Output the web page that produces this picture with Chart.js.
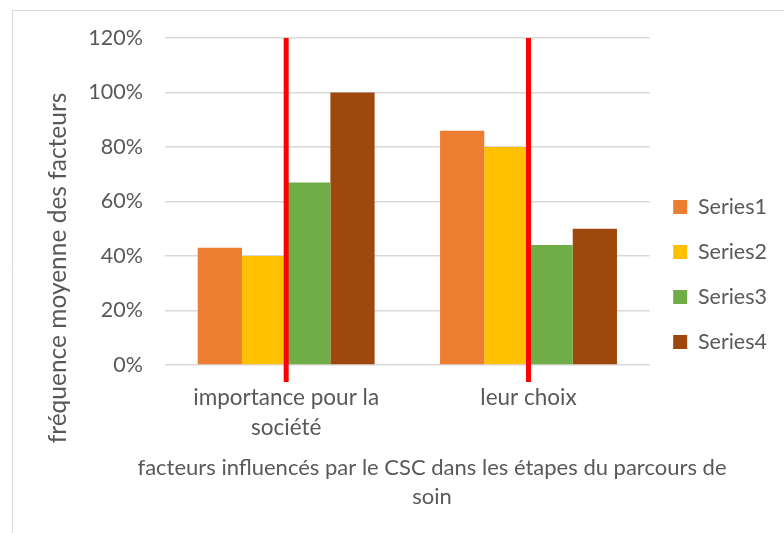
<!DOCTYPE html>
<html lang="fr">
<head>
<meta charset="utf-8" />
<script src="https://cdn.jsdelivr.net/npm/chart.js@4.4.1/dist/chart.umd.min.js"></script>
<style>
  body { margin: 0; background: #fff; }
  #wrap { width: 784px; height: 533px; }
</style>
</head>
<body>
<div id="wrap">
  <canvas id="myChart" width="784" height="533"></canvas>
</div>

<script>
// data
const categories = [['importance pour la', 'société'], 'leur choix'];
const seriesNames = ['Series1', 'Series2', 'Series3', 'Series4'];
const series1 = [43, 86];
const series2 = [40, 80];
const series3 = [67, 44];
const series4 = [100, 50];
const seriesColors = ['#ED7D31', '#FFC000', '#70AD47', '#9E480E'];
const yMin = 0, yMax = 120, yStep = 20;
const xTitle = ['facteurs influencés par le CSC dans les étapes du parcours de', 'soin'];
const yTitle = 'fréquence moyenne des facteurs';

const textColor = '#595959';
const fontFam = 'Lato, "Open Sans", sans-serif';

// red vertical marker at the middle of each category
const redLines = {
	id: 'red_lines',
	afterDatasetsDraw: (chart) => {
		const {ctx, scales: {x, y}} = chart;
		ctx.save();
		ctx.strokeStyle = '#FF0000';
		ctx.lineWidth = 5;
		categories.forEach((c, i) => {
			const px = x.getPixelForValue(i);
			ctx.beginPath();
			ctx.moveTo(px, y.getPixelForValue(yMax));
			ctx.lineTo(px, y.bottom + 17);
			ctx.stroke();
		});
		ctx.restore();
	}
};

// frame + axis titles placed like the original
const frameAndTitles = {
	id: 'frame_titles',
	beforeDraw: (chart) => {
		const {ctx} = chart;
		ctx.save();
		ctx.fillStyle = '#fff';
		ctx.fillRect(0, 0, chart.width, chart.height);
		ctx.strokeStyle = '#D9D9D9';
		ctx.lineWidth = 1;
		ctx.beginPath();
		ctx.moveTo(12.5, chart.height);
		ctx.lineTo(12.5, 10.5);
		ctx.lineTo(chart.width, 10.5);
		ctx.stroke();
		ctx.restore();
	},
	afterDraw: (chart) => {
		const {ctx} = chart;
		ctx.save();
		ctx.fillStyle = textColor;
		ctx.textAlign = 'center';
		ctx.textBaseline = 'middle';
		ctx.font = '22px ' + fontFam;
		ctx.fillText(xTitle[0], 432, 468);
		ctx.fillText(xTitle[1], 432, 497);
		ctx.translate(58, 268);
		ctx.rotate(-Math.PI / 2);
		ctx.font = '24.5px ' + fontFam;
		ctx.fillText(yTitle, 0, 0);
		ctx.restore();
	}
};

const allSeries = [series1, series2, series3, series4];

new Chart(document.getElementById('myChart'), {
	type: 'bar',
	data: {
		labels: categories,
		datasets: allSeries.map((d, i) => ({
			label: seriesNames[i],
			data: d,
			backgroundColor: seriesColors[i],
			borderWidth: 0,
			categoryPercentage: 0.73,
			barPercentage: 1.0
		}))
	},
	options: {
		responsive: false,
		animation: false,
		layout: { padding: { left: 0, top: 38, right: 7, bottom: 22 } },
		scales: {
			x: {
				grid: { display: false },
				border: { display: false },
				ticks: {
					color: textColor,
					font: { family: fontFam, size: 22.5, lineHeight: 1.32 },
					padding: 10,
					maxRotation: 0
				},
				afterFit: (s) => { s.height = 146; }
			},
			y: {
				min: yMin,
				max: yMax,
				grid: { color: '#D9D9D9', lineWidth: 1.5, drawTicks: false },
				border: { display: false },
				ticks: {
					stepSize: yStep,
					color: textColor,
					font: { family: fontFam, size: 21.5 },
					padding: 22,
					callback: (v) => v + '%'
				},
				afterFit: (s) => { s.width = 165; }
			}
		},
		plugins: {
			legend: {
				position: 'right',
				labels: {
					color: textColor,
					font: { family: fontFam, size: 21.5 },
					boxWidth: 14,
					boxHeight: 14,
					padding: 23.5
				}
			},
			tooltip: { enabled: false }
		}
	},
	plugins: [frameAndTitles, redLines]
});
</script>
</body>
</html>
